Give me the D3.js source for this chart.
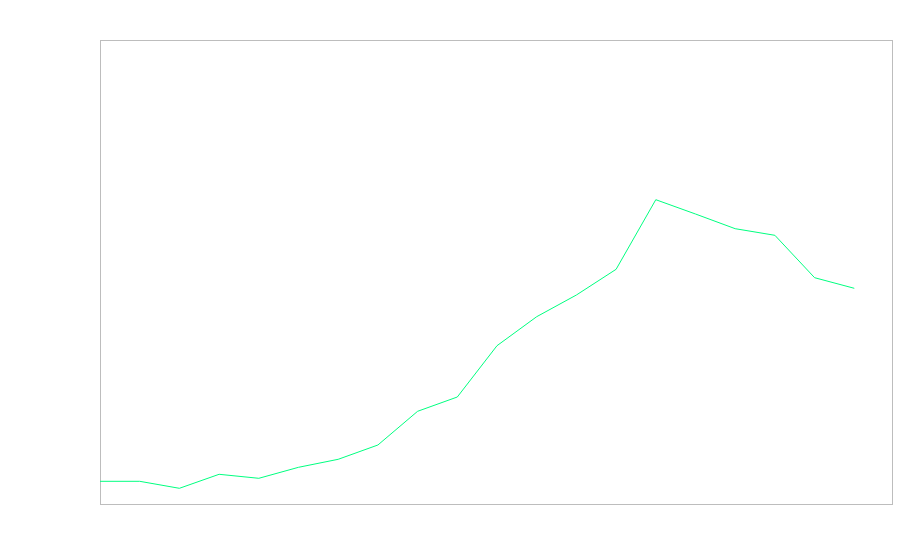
<!DOCTYPE html>
<html>
<head>
<meta charset="utf-8">
<script src="https://cdn.jsdelivr.net/npm/d3@7"></script>
<style>
  body { margin: 0; background: #fff; }
  svg { display: block; }
</style>
</head>
<body>
<div id="SVG_CONTAINER"></div>
<script>
// categories are just the point index, the chart shows no labels
const points = d3.range(20);

// series values
const values = [22.7, 22.7, 15.7, 29.7, 25.7, 36.7, 44.7, 59, 92.7, 107,
    158.3, 187.3, 209, 234.7, 304.3, 290, 275.3, 268.7, 226.3, 215.7];

const yDomain = [0, 464];

const width = 900,
    height = 560;

const margin = {top: 40, right: 8, bottom: 56, left: 100};
const innerW = width - margin.left - margin.right,
    innerH = height - margin.top - margin.bottom;

const svg = d3.select("#SVG_CONTAINER")
    .append("svg")
    .attr("width", width)
    .attr("height", height);

const g = svg.append("g")
    .attr("transform", "translate(" + margin.left + "," + margin.top + ")");

// frame around the plot area
g.append("rect")
    .attr("x", 0.5)
    .attr("y", 0.5)
    .attr("width", innerW)
    .attr("height", innerH)
    .attr("fill", "none")
    .attr("stroke", "#bdbdbd")
    .attr("stroke-width", 1);

const x = d3.scaleLinear()
    .domain([0, points.length])
    .range([0, innerW + 2]);

const y = d3.scaleLinear()
    .domain(yDomain)
    .range([innerH, 0]);

const line = d3.line()
    .x(function (d, i) { return x(points[i]); })
    .y(function (d) { return y(d); });

g.append("path")
    .datum(values)
    .attr("fill", "none")
    .attr("stroke", "#00ff80")
    .attr("stroke-width", 1)
    .attr("d", line);
</script>
</body>
</html>
